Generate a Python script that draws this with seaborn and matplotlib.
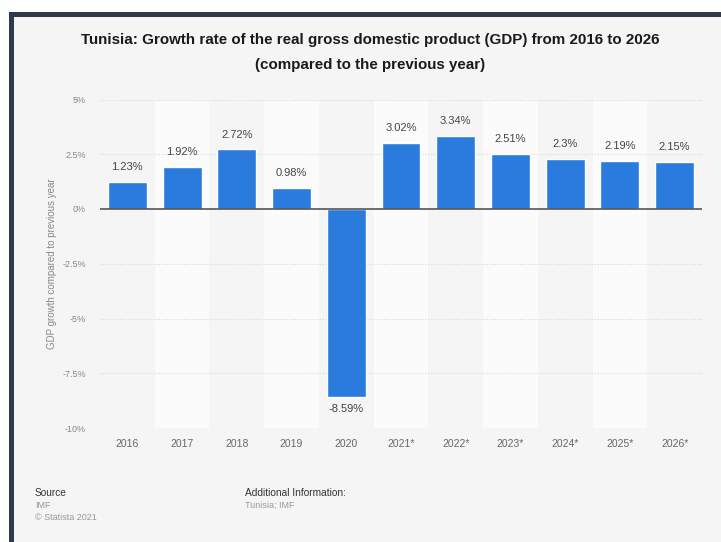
import matplotlib
matplotlib.use("Agg")
import matplotlib.pyplot as plt
import seaborn as sns
import pandas as pd
from matplotlib.patches import Rectangle

years = ["2016", "2017", "2018", "2019", "2020", "2021*", "2022*", "2023*", "2024*", "2025*", "2026*"]
growth = [1.23, 1.92, 2.72, 0.98, -8.59, 3.02, 3.34, 2.51, 2.3, 2.19, 2.15]
value_labels = ["1.23%", "1.92%", "2.72%", "0.98%", "-8.59%", "3.02%", "3.34%", "2.51%", "2.3%", "2.19%", "2.15%"]
yticks = [5, 2.5, 0, -2.5, -5, -7.5, -10]
ytick_labels = ["5%", "2.5%", "0%", "-2.5%", "-5%", "-7.5%", "-10%"]

df = pd.DataFrame({"year": years, "growth": growth})

sns.set_theme(style="white")
plt.rcParams['font.family'] = ['Liberation Sans', 'DejaVu Sans']

BG = "#f5f5f5"
fig = plt.figure(figsize=(7.21, 5.42), dpi=100, facecolor=BG)
# white margins and dark frame
fig.patches.append(Rectangle((0, 1 - 12 / 542), 1, 12 / 542, transform=fig.transFigure,
                             facecolor="white", edgecolor="none", zorder=0))
fig.patches.append(Rectangle((0, 0), 9 / 721, 1, transform=fig.transFigure,
                             facecolor="white", edgecolor="none", zorder=0))
fig.patches.append(Rectangle((9 / 721, 1 - 17 / 542), 1, 5 / 542, transform=fig.transFigure,
                             facecolor="#2f3b4c", edgecolor="none", zorder=1))
fig.patches.append(Rectangle((9 / 721, 0), 5 / 721, 1 - 12 / 542, transform=fig.transFigure,
                             facecolor="#2f3b4c", edgecolor="none", zorder=1))

ax = fig.add_axes([100 / 721, 1 - 428 / 542, 602 / 721, 328.5 / 542])
ax.set_facecolor(BG)

# alternating column shading
for i in range(len(years)):
    if i % 2 == 1:
        ax.axvspan(i - 0.5, i + 0.5, color="#fbfbfb", zorder=0, lw=0)

sns.barplot(data=df, x="year", y="growth", color="#2b7bde", saturation=1, width=0.71, ax=ax, zorder=3)

ax.set_ylim(-10, 5)
ax.set_xlim(-0.5, len(years) - 0.5)
ax.set_yticks(yticks)
ax.set_yticklabels(ytick_labels)
for y in yticks:
    if y != 0:
        ax.axhline(y, color="#d9d9d9", lw=0.8, ls=(0, (1, 1.5)), zorder=1)
ax.axhline(0, color="#555555", lw=1.2, zorder=4)

for s in ax.spines.values():
    s.set_visible(False)
ax.tick_params(axis="both", length=0, labelsize=7.5, labelcolor="#666666")
ax.tick_params(axis="y", labelsize=6.5, labelcolor="#888888", pad=10)
ax.tick_params(axis="x", pad=8)
ax.set_xlabel("")
ax.set_ylabel("GDP growth compared to previous year", fontsize=7, color="#888888", labelpad=4)

for i, (v, lab) in enumerate(zip(growth, value_labels)):
    if v >= 0:
        ax.annotate(lab, (i, v), xytext=(0, 7), textcoords="offset points",
                    ha="center", va="bottom", fontsize=8, color="#444444")
    else:
        ax.annotate(lab, (i, v), xytext=(0, -5), textcoords="offset points",
                    ha="center", va="top", fontsize=8, color="#444444")

fig.text(370 / 721, 1 - 40 / 542, "Tunisia: Growth rate of the real gross domestic product (GDP) from 2016 to 2026",
         ha="center", va="center", fontsize=10.9, fontweight="bold", color="#1a1a1a")
fig.text(370 / 721, 1 - 65 / 542, "(compared to the previous year)",
         ha="center", va="center", fontsize=10.9, fontweight="bold", color="#1a1a1a")

fig.text(35 / 721, 1 - 493 / 542, "Source", ha="left", va="center", fontsize=7.3, color="#333333")
fig.text(35 / 721, 1 - 505 / 542, "IMF", ha="left", va="center", fontsize=6.5, color="#999999")
fig.text(35 / 721, 1 - 517 / 542, "© Statista 2021", ha="left", va="center", fontsize=6.5, color="#999999")
fig.text(245 / 721, 1 - 493 / 542, "Additional Information:", ha="left", va="center", fontsize=7.3, color="#333333")
fig.text(245 / 721, 1 - 505 / 542, "Tunisia; IMF", ha="left", va="center", fontsize=6.5, color="#999999")

fig.savefig("out.png", dpi=100, facecolor=fig.get_facecolor())
